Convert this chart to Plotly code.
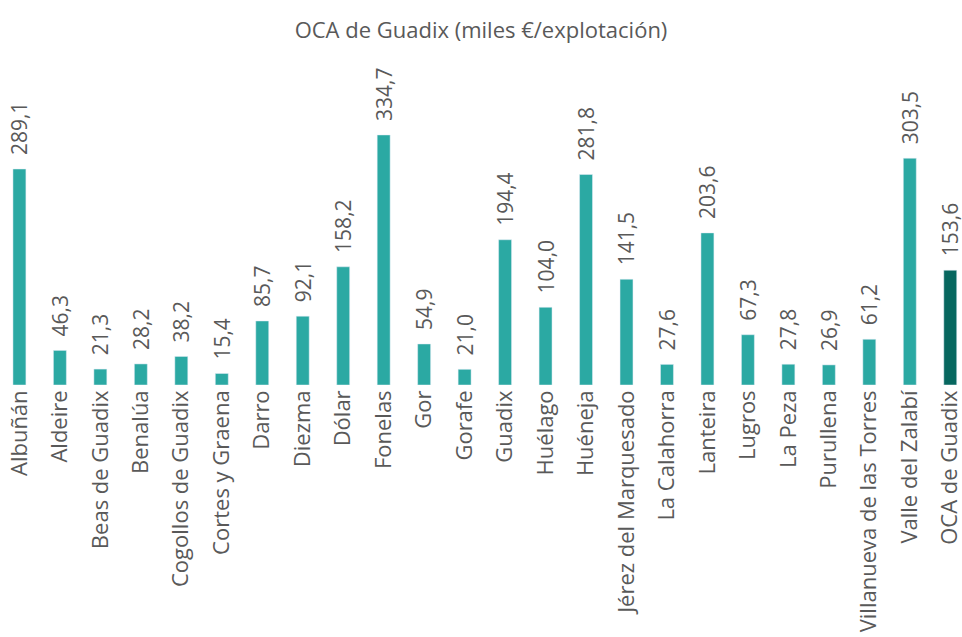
import plotly.graph_objects as go

categories = ["Albuñán", "Aldeire", "Beas de Guadix", "Benalúa", "Cogollos de Guadix",
              "Cortes y Graena", "Darro", "Diezma", "Dólar", "Fonelas", "Gor", "Gorafe",
              "Guadix", "Huélago", "Huéneja", "Jérez del Marquesado", "La Calahorra",
              "Lanteira", "Lugros", "La Peza", "Purullena", "Villanueva de las Torres",
              "Valle del Zalabí", "OCA de Guadix"]
values = [289.1, 46.3, 21.3, 28.2, 38.2, 15.4, 85.7, 92.1, 158.2, 334.7, 54.9, 21.0,
          194.4, 104.0, 281.8, 141.5, 27.6, 203.6, 67.3, 27.8, 26.9, 61.2, 303.5, 153.6]
title_text = "OCA de Guadix (miles €/explotación)"

teal = "#2BA9A3"
dark = "#07675F"
colors = [dark if c == "OCA de Guadix" else teal for c in categories]

fig = go.Figure(go.Bar(
    x=categories, y=values, marker_color=colors, width=0.32,
    texttemplate="\u00a0\u00a0%{y:.1f}", textposition="outside", textangle=-90,
    constraintext="none", cliponaxis=False,
    textfont=dict(family="Open Sans", size=21, color="#595959"),
))

fig.update_layout(
    width=962, height=637,
    margin=dict(l=0, r=0, t=60, b=252, autoexpand=False),
    paper_bgcolor="white", plot_bgcolor="white",
    separators=",.",
    showlegend=False,
    title=dict(text=title_text, x=0.5, xanchor="center", y=0.953, yanchor="middle",
               font=dict(family="Open Sans", size=22, color="#595959")),
    xaxis=dict(range=[-0.48, 23.29], tickangle=-90, showgrid=False, showline=False,
               automargin=False, ticks="", ticklen=6,
               tickfont=dict(family="Open Sans", size=22, color="#595959")),
    yaxis=dict(range=[0, 435], visible=False, showgrid=False, automargin=False),
)

fig.write_html("out.html", config={"displayModeBar": False},
               post_script="document.body.style.margin='0';document.body.style.overflow='hidden';")
